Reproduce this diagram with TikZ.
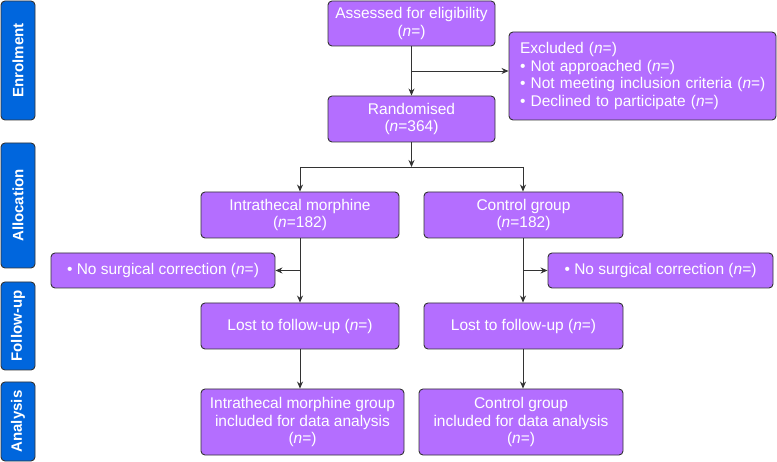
\documentclass[tikz,border=0pt]{standalone}
\usepackage{fontspec}
\setmainfont{Liberation Sans}
\usetikzlibrary{arrows.meta}
\definecolor{boxfill}{HTML}{B46EFF}
\definecolor{barblue}{HTML}{0066DD}
\definecolor{edgec}{HTML}{333333}
\begin{document}
\begin{tikzpicture}[x=1pt,y=-1pt,
  box/.style={draw=edgec, line width=0.9pt, fill=boxfill, rounded corners=4pt, text=white, align=center, inner sep=0pt, font=\fontsize{15.5}{17.5}\selectfont},
  bar/.style={draw=edgec, line width=0.9pt, fill=barblue, rounded corners=4pt, text=white, font=\bfseries\fontsize{15}{17}\selectfont, rotate=90, inner sep=0pt, minimum height=34pt},
  conn/.style={draw=edgec, line width=0.8pt},
  arr/.style={conn, -{Stealth[length=7pt,width=6pt]}}]
\useasboundingbox (0,0) rectangle (777,462);
% phase bars
\node[bar, minimum width=119pt] (b1) at (18,60.5) {Enrolment};
\node[bar, minimum width=125pt] (b2) at (18,205.5) {Allocation};
\node[bar, minimum width=88pt] (b3) at (18,326) {Follow-up};
\node[bar, minimum width=79pt] (b4) at (18,421.5) {Analysis};
% boxes
\node[box, minimum width=167pt, minimum height=45pt] (assess) at (411.5,23.5) {Assessed for eligibility\\(\textit{n}=)};
\node[box, text width=245pt, inner xsep=11pt, minimum height=88pt, align=left] (excl) at (642.5,76) {Excluded (\textit{n}=)\\\textbullet{} Not approached (\textit{n}=)\\\mbox{\textbullet{} Not meeting inclusion criteria (\textit{n}=)}\\\textbullet{} Declined to participate (\textit{n}=)};
\node[box, minimum width=167pt, minimum height=46pt] (rand) at (411.5,119) {Randomised\\(\textit{n}=364)};
\node[box, minimum width=198pt, minimum height=46pt] (intr) at (300,215) {Intrathecal morphine\\(\textit{n}=182)};
\node[box, minimum width=199pt, minimum height=46pt] (ctrl) at (523.5,215) {Control group\\(\textit{n}=182)};
\node[box, minimum width=224pt, minimum height=35pt] (nscL) at (163,270.5) {\textbullet{} No surgical correction (\textit{n}=)};
\node[box, minimum width=225pt, minimum height=35pt] (nscR) at (660.5,270.5) {\textbullet{} No surgical correction (\textit{n}=)};
\node[box, minimum width=198pt, minimum height=46pt] (lostL) at (300,326) {Lost to follow-up (\textit{n}=)};
\node[box, minimum width=199pt, minimum height=46pt] (lostR) at (523.5,326) {Lost to follow-up (\textit{n}=)};
\node[box, minimum width=203pt, minimum height=66pt] (anaL) at (302.5,422) {Intrathecal morphine group\\included for data analysis\\(\textit{n}=)};
\node[box, minimum width=204pt, minimum height=66pt] (anaR) at (521,422) {Control group\\included for data analysis\\(\textit{n}=)};
% connectors
\coordinate (j1) at (411.5,71);
\coordinate (j2) at (411.5,167);
\coordinate (cl) at (300,167);
\coordinate (cr) at (523,167);
\draw[arr] (assess) -- (rand);
\draw[arr] (j1) -- (excl.west |- j1);
\draw[arr] (rand) -- (j2);
\draw[conn] (cl) -- (cr);
\draw[arr] (cl) -- (cl |- intr.north);
\draw[arr] (cr) -- (cr |- ctrl.north);
\draw[arr] (cl |- intr.south) -- (cl |- lostL.north);
\draw[arr] (cr |- ctrl.south) -- (cr |- lostR.north);
\draw[arr] (cl |- nscL.east) -- (nscL.east);
\draw[arr] (cr |- nscR.west) -- (nscR.west);
\draw[arr] (cl |- lostL.south) -- (cl |- anaL.north);
\draw[arr] (cr |- lostR.south) -- (cr |- anaR.north);
\end{tikzpicture}
\end{document}
